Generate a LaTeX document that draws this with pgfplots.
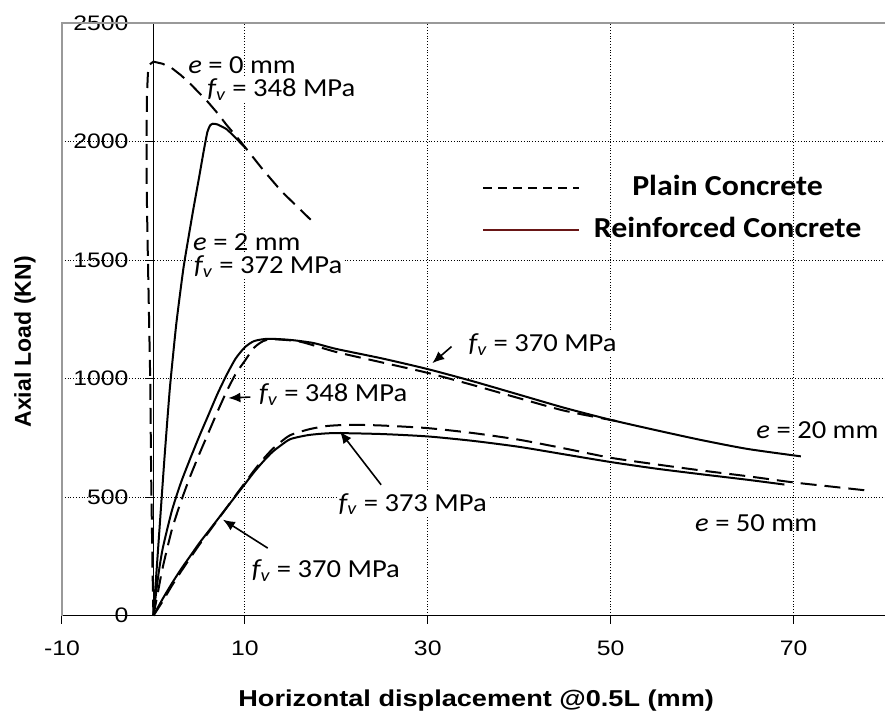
\documentclass[border=0pt]{standalone}
\usepackage{fontspec}
\usepackage{pgfplots}
\pgfplotsset{compat=1.18}
\usetikzlibrary{arrows.meta}
\setmainfont{Carlito}
\newfontfamily\arial[FakeStretch=1.18]{Liberation Sans}
\newfontfamily\arialy{Liberation Sans}
\newfontfamily\calib[FakeStretch=1.1]{Carlito}
\newcommand\annot{\calib\fontsize{13}{15}\selectfont}
\newcommand\tickf{\arial\fontsize{10.5}{12}\selectfont}
\newcommand\fv{{\itshape f}\textsubscript{\itshape v}}
\definecolor{legred}{RGB}{105,22,22}
\begin{document}
\begin{tikzpicture}
\begin{axis}[
  scale only axis, width=411.75pt, height=296.5pt,
  xmin=-10, xmax=80, ymin=0, ymax=2500,
  axis x line=bottom, axis y line=middle,
  axis line style={-, black, line width=0.5pt},
  xtick={-10,10,30,50,70}, ytick={0,500,1000,1500,2000,2500},
  grid=major, grid style={black, densely dotted, line width=0.45pt},
  tick align=outside, major tick length=4pt,
  tick style={black, line width=0.5pt},
  hide obscured x ticks=false, hide obscured y ticks=false,
  /pgf/number format/assume math mode=true,
  /pgf/number format/1000 sep={},
  ticklabel style={font=\tickf},
  xticklabel style={yshift=-5pt}, yticklabel style={xshift=-5pt},
  clip=false,
  legend style={draw=none, fill=none, at={(axis cs:56.7,1716)}, anchor=center,
    font=\calib\bfseries\fontsize{14.5}{17}\selectfont, row sep=7pt,
    nodes={inner sep=0pt, text height=11pt, text depth=3pt},
    /tikz/every odd column/.append style={column sep=7pt}},
  legend cell align=center,
  legend image code/.code={\draw[#1] (0pt,0pt) -- (48pt,0pt);},
]
\coordinate (ll) at (rel axis cs:0,0);
\coordinate (ur) at (rel axis cs:1,1);
\draw[gray!80, line width=0.75pt] (rel axis cs:0,0) -- (rel axis cs:0,1) -- (rel axis cs:1,1);

\addlegendimage{black, line width=0.7pt, dash pattern=on 4.5pt off 3pt}
\addlegendentry{Plain Concrete}
\addlegendimage{legred, line width=0.7pt}
\addlegendentry{Reinforced Concrete}

% annotations (under the curves)
\node[anchor=base west, font=\annot, inner sep=0pt] at (axis cs:3.77,2285) {{\itshape e} = 0 mm};
\node[anchor=base west, font=\annot, inner sep=1pt, fill=white] at (axis cs:5.63,2189) {\fv{} = 348 MPa};
\node[anchor=base west, font=\annot, inner sep=0pt] at (axis cs:4.3,1540) {{\itshape e} = 2 mm};
\node[anchor=base west, font=\annot, inner sep=1pt, fill=white] at (axis cs:4.2,1442) {\fv{} = 372 MPa};
\node[anchor=base west, font=\annot, inner sep=1pt, fill=white] at (axis cs:11.3,903) {\fv{} = 348 MPa};
\node[anchor=base west, font=\annot, inner sep=1pt, fill=white] at (axis cs:34.2,1114) {\fv{} = 370 MPa};
\node[anchor=base west, font=\annot, inner sep=1pt, fill=white] at (axis cs:20.0,440) {\fv{} = 373 MPa};
\node[anchor=base west, font=\annot, inner sep=1pt, fill=white] at (axis cs:10.5,159) {\fv{} = 370 MPa};
\node[anchor=base west, font=\annot, inner sep=0pt] at (axis cs:65.9,749) {{\itshape e} = 20 mm};
\node[anchor=base west, font=\annot, inner sep=0pt] at (axis cs:59.2,355) {{\itshape e} = 50 mm};

\draw[-{Latex[length=6pt,width=5pt]}, line width=0.8pt] (axis cs:10.6,922) -- (axis cs:8.2,918);
\draw[-{Latex[length=6pt,width=5pt]}, line width=0.8pt] (axis cs:32.6,1135) -- (axis cs:30.5,1065);
\draw[-{Latex[length=6pt,width=5pt]}, line width=0.8pt] (axis cs:24.9,552) -- (axis cs:20.4,777);
\draw[-{Latex[length=6pt,width=5pt]}, line width=0.8pt] (axis cs:12.5,285) -- (axis cs:7.6,405);

% e = 0 mm, plain
\addplot[black, line width=1pt, dash pattern=on 8pt off 4pt] coordinates {
(0,0) (-0.1,200) (-0.25,600) (-0.35,1000) (-0.5,1300) (-0.65,1600) (-0.75,1850)
(-0.75,2050) (-0.7,2200) (-0.6,2290) (-0.4,2325) (0,2337) (1,2328) (2,2310)
(3,2280) (4,2245) (5,2205) (6,2165) (7,2120) (8,2070) (9,2025) (10,1977)
(12,1880) (14,1790) (16,1715) (17.2,1670)};

% e = 2 mm, reinforced
\addplot[black, line width=1pt, smooth, tension=0.3] coordinates {
(0,0) (0.6,330) (1.2,660) (1.8,960) (2.5,1230) (3.3,1470) (4.3,1700) (5.0,1850)
(5.5,1960) (5.9,2040) (6.2,2068) (6.5,2075) (7,2072) (8,2052) (9,2015) (10,1975)};

% e = 20 mm, reinforced
\addplot[black, line width=1pt, smooth, tension=0.4] coordinates {
(0,0) (0.5,160) (1,280) (2,440) (3,560) (4,660) (5,755) (6,845) (7,935) (8,1015)
(9,1085) (10,1132) (11,1158) (12.5,1168) (15,1163) (17.5,1150) (20,1125) (25,1085)
(30,1040) (35,988) (40,932) (45,876) (50,826) (55,782) (60,740) (65,703) (70.8,672)};

% e = 20 mm, plain
\addplot[black, line width=1pt, dash pattern=on 8pt off 4pt, smooth, tension=0.4] coordinates {
(0,0) (0.5,100) (1,200) (2,360) (3,480) (4,585) (5,680) (6,770) (7,860) (8,945)
(9,1020) (10,1075) (11,1130) (12,1158) (13,1166) (16,1156) (20,1112) (25,1068)
(30,1024) (35,972) (40,917) (45,864) (51,818)};

% e = 50 mm, reinforced
\addplot[black, line width=1pt, smooth, tension=0.4] coordinates {
(0,0) (1,70) (2,135) (3,195) (4,250) (5,305) (6,355) (7,405) (8,455) (9,505)
(10,555) (11,605) (12,650) (13,690) (14,720) (15,745) (17,762) (19.7,770) (25,766)
(30,756) (35,737) (40,712) (45,680) (50,648) (55,620) (60,596) (65,573) (69,553)};

% e = 50 mm, plain
\addplot[black, line width=1pt, dash pattern=on 8pt off 4pt, smooth, tension=0.4] coordinates {
(0,0) (1,60) (2,125) (3,185) (4,242) (5,298) (6,350) (7,403) (8,455) (9,508)
(10,560) (11,612) (12,660) (13,702) (14,735) (15,762) (17,786) (19,800) (21.5,805)
(25,802) (30,791) (35,770) (40,742) (45,705) (50,666) (55,638) (60,612) (65,588)
(70,562) (74,545) (78,528)};

\node[font=\arial\bfseries\fontsize{11.5}{13}\selectfont, anchor=center] at ([yshift=-42.5pt]rel axis cs:0.5033,0) {Horizontal displacement @0.5L (mm)};
\node[font=\arialy\bfseries\fontsize{11.5}{13}\selectfont, rotate=90, anchor=center] at ([xshift=-18.5pt]rel axis cs:0,0.462) {Axial Load (KN)};
\end{axis}
\pgfresetboundingbox
\path ([xshift=-31pt,yshift=-52.5pt]ll) rectangle ([yshift=11.5pt]ur);
\end{tikzpicture}
\end{document}
